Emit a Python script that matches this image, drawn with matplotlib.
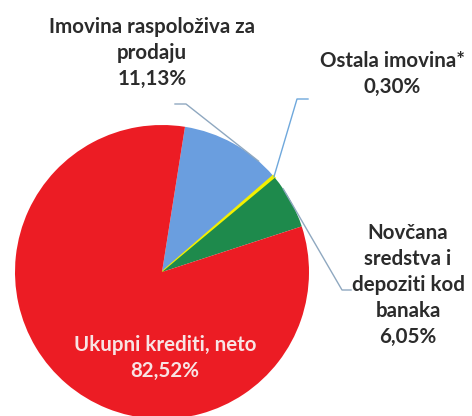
import numpy as np
import matplotlib.pyplot as plt

# Asset structure shares (%)
labels = ["Imovina raspoloživa za\nprodaju", "Ostala imovina*",
          "Novčana\nsredstva i\ndepoziti kod\nbanaka", "Ukupni krediti, neto"]
shares = [11.13, 0.30, 6.05, 82.52]
pct_text = ["11,13%", "0,30%", "6,05%", "82,52%"]
colors = ["#6A9EDF", "#F4F000", "#1E8A4C", "#EC1C24"]

W, H = 472, 416
fig = plt.figure(figsize=(W / 100, H / 100), dpi=100)
ax = fig.add_axes([0, 0, 1, 1])

cx, cy, r = 162, H - 272, 147
wedges, _ = ax.pie(shares, colors=colors, startangle=81, counterclock=False,
                   center=(cx, cy), radius=r, frame=True,
                   wedgeprops=dict(linewidth=0))
wedges[1].set_edgecolor("#F4F000")
wedges[1].set_linewidth(1.2)
ax.set_xlim(0, W)
ax.set_ylim(0, H)
ax.axis("off")


def edge_point(w, frac=0.5, k=1.0):
    ang = np.deg2rad(w.theta1 + (w.theta2 - w.theta1) * frac)
    return cx + k * r * np.cos(ang), cy + k * r * np.sin(ang)


font = dict(family=["Lato", "DejaVu Sans"], fontweight="bold", fontsize=14.8,
            color="#2b2b2b", ha="center", va="center", linespacing=1.36)

# Imovina raspoloziva za prodaju
ax.text(152, H - 53, labels[0] + "\n" + pct_text[0], **font)
px, py = edge_point(wedges[0], 0.2)
ax.plot([175, 186, px], [H - 104, H - 104, py], color="#8FA8C0", lw=1)

# Ostala imovina
ax.text(392, H - 74, labels[1] + "\n" + pct_text[1], **font)
px, py = edge_point(wedges[1], 0.5)
ax.plot([308, 297, px], [H - 99, H - 99, py], color="#6FA8DC", lw=1)

# Novcana sredstva
ax.text(408, H - 285, labels[2] + "\n" + pct_text[2], **font)
px, py = edge_point(wedges[2], 0.75)
ax.plot([px, 342, 351], [py, H - 290, H - 290], color="#8FA8C0", lw=1)

# Ukupni krediti
f2 = dict(font, color="#F8E4E4")
ax.text(165, H - 358, labels[3] + "\n" + pct_text[3], **f2)

fig.savefig("out.png", dpi=100)
